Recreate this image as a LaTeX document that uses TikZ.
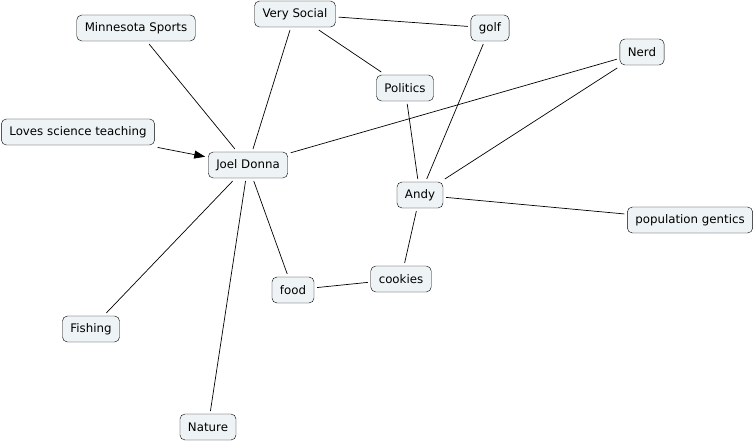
\documentclass[tikz,border=0pt]{standalone}
\usepackage{fontspec}
\setmainfont{DejaVu Sans}
\usepackage{tikz}
\usetikzlibrary{arrows.meta}
\definecolor{BoxFill}{RGB}{238,243,245}

\begin{document}
\begin{tikzpicture}[x=1pt, y=-1pt,
	concept/.style={draw, rounded corners=5pt, fill=BoxFill, font=\fontsize{11.8}{13}\selectfont,
		minimum height=26pt, inner xsep=8pt, outer sep=3pt},
	link/.style={line width=0.7pt}]
	\useasboundingbox (0,0) rectangle (755,441);
	\node[concept] (sports) at (136,28) {Minnesota Sports};
	\node[concept] (social) at (295,14) {Very Social};
	\node[concept] (golf) at (490,28) {golf};
	\node[concept] (nerd) at (642,52) {Nerd};
	\node[concept] (politics) at (405,88) {Politics};
	\node[concept] (teach) at (78,132) {Loves science teaching};
	\node[concept] (joel) at (248,165) {Joel Donna};
	\node[concept] (andy) at (420,195) {Andy};
	\node[concept] (genetics) at (690,220) {population gentics};
	\node[concept] (cookies) at (401,279) {cookies};
	\node[concept] (food) at (293,290) {food};
	\node[concept] (fishing) at (91,329) {Fishing};
	\node[concept] (nature) at (208,427) {Nature};
	% links
	\draw[link] (sports) -- (joel);
	\draw[link] (social) -- (joel);
	\draw[link] (social) -- (golf);
	\draw[link] (social) -- (politics);
	\draw[link] (golf) -- (andy);
	\draw[link] (politics) -- (andy);
	\draw[link] (nerd) -- (joel);
	\draw[link] (nerd) -- (andy);
	\draw[link] (andy) -- (genetics);
	\draw[link] (andy) -- (cookies);
	\draw[link] (cookies) -- (food);
	\draw[link] (food) -- (joel);
	\draw[link] (fishing) -- (joel);
	\draw[link] (nature) -- (joel);
	\draw[link, -{Triangle[length=11pt,width=8pt]}] (teach) -- (joel);
\end{tikzpicture}
\end{document}
